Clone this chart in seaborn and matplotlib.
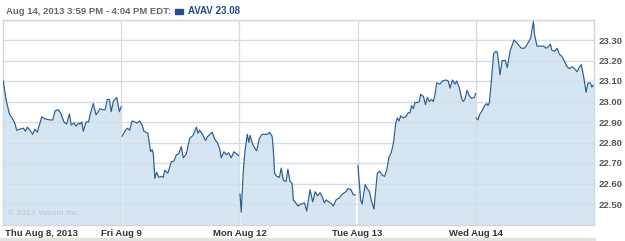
import matplotlib
matplotlib.use("Agg")
import matplotlib.pyplot as plt
import matplotlib.patches as mpatches
import seaborn as sns
import pandas as pd

# ---- data (minutes since 9:30 open, price) ----
day_labels = ["Thu Aug 8, 2013", "Fri Aug 9", "Mon Aug 12", "Tue Aug 13", "Wed Aug 14"]

thu_min = [1, 10, 21, 34, 40, 45, 56, 67, 74, 80, 89, 98, 105, 113, 120, 128, 139, 155, 164, 172,
           182, 190, 201, 210, 219, 225, 234, 241, 250, 254, 260, 265, 274, 282, 290, 298, 307, 314, 320, 329,
           337, 344, 351, 357, 364, 375, 384, 390]
thu_px = [23.10, 23.01, 22.94, 22.91, 22.89, 22.86, 22.865, 22.87, 22.855, 22.875,
          22.86, 22.84, 22.865, 22.85, 22.885, 22.925, 22.915, 22.91, 22.91, 22.955,
          22.96, 22.945, 22.90, 22.89, 22.94, 22.885, 22.895, 22.88, 22.895, 22.89,
          22.90, 22.855, 22.90, 22.90, 22.95, 22.99, 22.935, 22.95, 22.965, 22.96,
          22.96, 23.01, 23.01, 22.95, 23.00, 23.02, 22.95, 22.975]

fri_min = [3, 12, 20, 28, 36, 45, 53, 61, 69, 75, 88, 97, 102, 106, 111, 117, 124, 132, 139, 144,
           154, 165, 174, 182, 190, 198, 205, 215, 226, 237, 248, 253, 259, 270, 278, 286, 300, 309, 317, 325,
           330, 339, 347, 355, 363, 372, 380, 388]
fri_px = [22.83, 22.855, 22.87, 22.86, 22.905, 22.90, 22.895, 22.905, 22.885, 22.855,
          22.845, 22.755, 22.765, 22.745, 22.625, 22.655, 22.63, 22.635, 22.63, 22.665,
          22.65, 22.705, 22.71, 22.74, 22.745, 22.78, 22.725, 22.745, 22.82, 22.835,
          22.875, 22.845, 22.86, 22.835, 22.81, 22.83, 22.85, 22.815, 22.80, 22.77,
          22.725, 22.755, 22.74, 22.75, 22.725, 22.755, 22.745, 22.735]

mon_min = [2, 6, 13, 19, 26, 31, 35, 44, 52, 57, 66, 75, 93, 99, 108, 112, 116, 123, 132, 138,
           145, 154, 160, 167, 174, 178, 184, 193, 204, 215, 222, 233, 242, 250, 258, 266, 275, 280, 286, 295,
           302, 310, 319, 330, 341, 352, 358, 368, 376, 383]
mon_px = [22.55, 22.46, 22.665, 22.765, 22.84, 22.80, 22.835, 22.79, 22.77, 22.76,
          22.82, 22.84, 22.84, 22.85, 22.83, 22.765, 22.65, 22.635, 22.63, 22.675,
          22.615, 22.61, 22.67, 22.61, 22.60, 22.52, 22.51, 22.49, 22.50, 22.505,
          22.465, 22.57, 22.51, 22.56, 22.54, 22.555, 22.53, 22.505, 22.52, 22.51,
          22.505, 22.49, 22.52, 22.53, 22.55, 22.56, 22.575, 22.57, 22.545, 22.545]

tue_min = [1, 5, 10, 15, 25, 32, 39, 45, 54, 65, 72, 82, 89, 96, 104, 111, 118, 126, 131, 137,
           142, 151, 159, 167, 173, 178, 184, 189, 197, 204, 208, 217, 224, 230, 237, 244, 250, 255, 261, 272,
           280, 291, 299, 305, 313, 321, 327, 336, 343, 349, 354, 361, 368, 376, 385, 390]
tue_px = [22.69, 22.615, 22.52, 22.50, 22.595, 22.575, 22.56, 22.52, 22.475, 22.65,
          22.66, 22.64, 22.635, 22.665, 22.73, 22.75, 22.795, 22.895, 22.92, 22.905,
          22.93, 22.92, 22.925, 22.945, 22.945, 22.98, 22.965, 22.995, 22.995, 23.00,
          23.035, 23.025, 22.985, 23.02, 23.00, 23.01, 23.00, 23.03, 23.09, 23.085,
          23.10, 23.105, 23.10, 23.065, 23.105, 23.085, 23.10, 23.065, 23.015, 23.00,
          23.01, 23.055, 23.03, 23.015, 23.02, 23.04]

wed_min = [1, 7, 14, 23, 29, 36, 40, 45, 51, 59, 67, 71, 80, 87, 97, 104, 113, 126, 136, 150,
           161, 172, 181, 190, 194, 202, 213, 224, 232, 238, 246, 251, 260, 268, 276, 284, 293, 301, 309, 317,
           326, 334, 341, 348, 356, 364, 370, 378, 383, 388]
wed_px = [22.92, 22.91, 22.94, 22.96, 22.98, 22.99, 22.98, 22.995, 23.095, 23.235,
          23.245, 23.24, 23.13, 23.20, 23.20, 23.165, 23.245, 23.30, 23.285, 23.26,
          23.26, 23.285, 23.31, 23.39, 23.325, 23.27, 23.27, 23.27, 23.26, 23.265,
          23.28, 23.25, 23.245, 23.26, 23.23, 23.22, 23.195, 23.17, 23.16, 23.17,
          23.16, 23.145, 23.165, 23.18, 23.12, 23.045, 23.09, 23.09, 23.07, 23.08]

y_ticks = [22.50, 22.60, 22.70, 22.80, 22.90, 23.00, 23.10, 23.20, 23.30]
header_text = "Aug 14, 2013 3:59 PM - 4:04 PM EDT:"
legend_text = "AVAV 23.08"
SESSION = 390

days_min = [thu_min, fri_min, mon_min, tue_min, wed_min]
days_px = [thu_px, fri_px, mon_px, tue_px, wed_px]
rows = []
for i, (mins, pxs) in enumerate(zip(days_min, days_px)):
    for m, p in zip(mins, pxs):
        rows.append({"day": i, "pos": i * SESSION + m, "price": p})
df = pd.DataFrame(rows)

# ---- style ----
sns.set_style("white")
plt.rcParams["font.family"] = ["Liberation Sans", "DejaVu Sans"]

W, H = 625, 241
fig = plt.figure(figsize=(W / 100, H / 100), dpi=100)
fig.patch.set_facecolor("white")
ax = fig.add_axes([3 / W, 1 - 224.5 / H, 591 / W, 205 / H])

LINE = "#2b5c92"
FILL = "#d5e5f1"
GRID = "#d4dde6"
TXT = "#555555"

ax.set_xlim(0, 5 * SESSION)
ax.set_ylim(22.40, 23.40)

for i in range(5):
    d = df[df["day"] == i]
    ax.fill_between(d["pos"], d["price"], 22.40, color=FILL, lw=0, zorder=1)

sns.lineplot(data=df, x="pos", y="price", units="day", estimator=None,
             color=LINE, lw=0.85, ax=ax, zorder=3, legend=False)

for y in y_ticks + [23.40]:
    ax.axhline(y, color=GRID, lw=1.0, zorder=2)
for i in range(1, 5):
    ax.axvline(i * SESSION, color=GRID, lw=1.0, zorder=2)

for s in ax.spines.values():
    s.set_color("#cfd6dd")
    s.set_linewidth(1.0)

ax.set_xticks([])
ax.yaxis.tick_right()
ax.set_yticks(y_ticks)
ax.set_yticklabels([f"{v:.2f}" for v in y_ticks], fontsize=6.8, fontweight="bold", color=TXT)
ax.tick_params(axis="y", length=0, pad=3)
ax.set_xlabel("")
ax.set_ylabel("")

# x labels: first left-aligned, others centred at session boundaries
for i, lab in enumerate(day_labels):
    if i == 0:
        ax.text(6, -0.02, lab, transform=ax.get_xaxis_transform(),
                ha="left", va="top", fontsize=6.8, fontweight="bold", color="#333333")
    else:
        ax.text(i * SESSION, -0.02, lab, transform=ax.get_xaxis_transform(),
                ha="center", va="top", fontsize=6.8, fontweight="bold", color="#333333")

# copyright
ax.text(0.009, 0.035, "© 2013 Yahoo! Inc.", transform=ax.transAxes,
        ha="left", va="bottom", fontsize=6.0, color="#b9c6d2", zorder=4)

# header
fig.text(6 / W, 1 - 11.5 / H, header_text, ha="left", va="center",
         fontsize=6.8, fontweight="bold", color="#666666")
fig.patches.append(mpatches.Rectangle((175 / W, 1 - 13.5 / H), 8 / W, 4 / H,
                                      transform=fig.transFigure, color="#1f4e8c"))
fig.text(188 / W, 1 - 11.5 / H, legend_text, ha="left", va="center",
         fontsize=7.0, fontweight="bold", color="#1f4e8c")

# bottom bar
fig.patches.append(mpatches.Rectangle((0, 0), 595 / W, 3 / H,
                                      transform=fig.transFigure, color="#e2e2e2"))

fig.savefig("out.png", dpi=100)
